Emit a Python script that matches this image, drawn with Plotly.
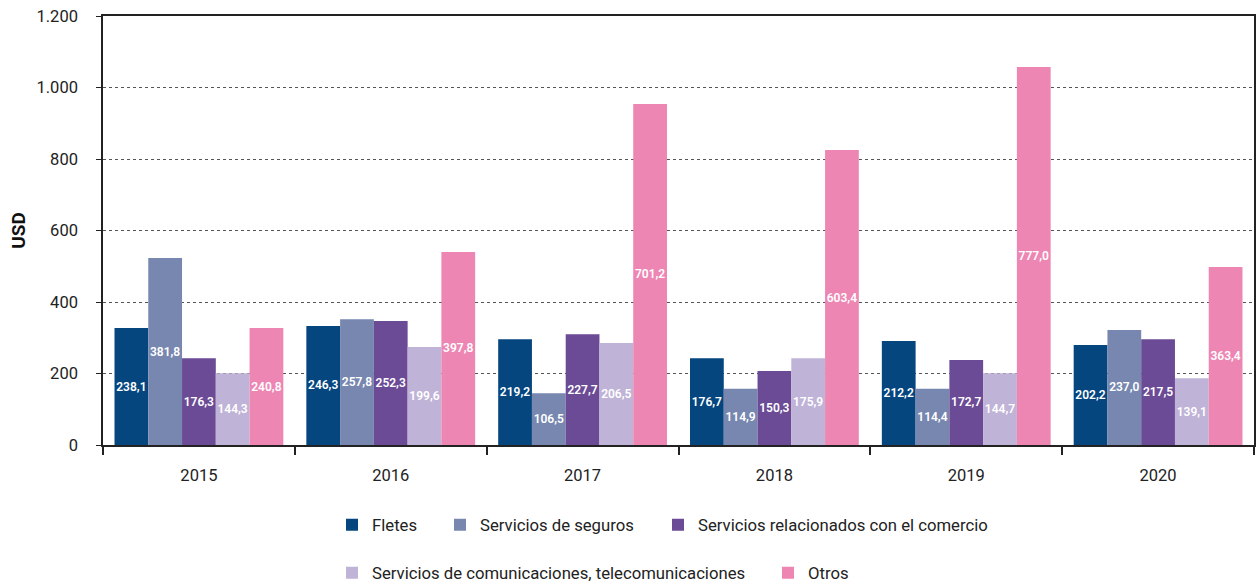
import plotly.graph_objects as go

years = ["2015", "2016", "2017", "2018", "2019", "2020"]
series_names = [
    "Fletes",
    "Servicios de seguros",
    "Servicios relacionados con el comercio",
    "Servicios de comunicaciones, telecomunicaciones",
    "Otros",
]
colors = ["#05467F", "#7787B0", "#6B4A96", "#BFB3D7", "#EE86B4"]

# Bar heights (USD)
fletes = [327, 333, 296, 243, 291, 280]
seguros = [523, 352, 145, 157, 157, 322]
relacionados = [243, 347, 310, 207, 238, 296]
comunicaciones = [201, 274, 285, 243, 201, 187]
otros = [327, 540, 954, 825, 1057, 498]

# Data labels as printed on the bars
fletes_lbl = [238.1, 246.3, 219.2, 176.7, 212.2, 202.2]
seguros_lbl = [381.8, 257.8, 106.5, 114.9, 114.4, 237.0]
relacionados_lbl = [176.3, 252.3, 227.7, 150.3, 172.7, 217.5]
comunicaciones_lbl = [144.3, 199.6, 206.5, 175.9, 144.7, 139.1]
otros_lbl = [240.8, 397.8, 701.2, 603.4, 777.0, 363.4]

y_tickvals = [0, 200, 400, 600, 800, 1000, 1200]
y_ticktext = ["0", "200", "400", "600", "800", "1.000", "1.200"]

values = [fletes, seguros, relacionados, comunicaciones, otros]
labels = [fletes_lbl, seguros_lbl, relacionados_lbl, comunicaciones_lbl, otros_lbl]

FONT = "Roboto"

# plot area geometry in px (for legend placement)
L, R, T, B = 103, 1254, 16, 445
W, H = 1260, 586
pw, ph = R - L, B - T

def px_x(x):
    return (x - L) / pw

def px_y(y):
    return (B - y) / ph

# (square left edge, row centre) in px
legend_pos = [(346, 525), (454, 525), (672, 525), (346, 573), (782, 573)]

fig = go.Figure()
for i, (name, vals, lbl, col) in enumerate(zip(series_names, values, labels, colors)):
    fig.add_trace(go.Bar(
        x=years, y=vals, name=name, marker=dict(color=col, line=dict(width=0)),
        text=lbl, texttemplate="%{text:.1f}", textposition="inside",
        insidetextanchor="middle", textangle=0,
        textfont=dict(family=FONT, size=12, color="white", weight=600),
        legend="legend" if i == 0 else f"legend{i+1}",
        hoverinfo="x+y+name",
    ))

layout_legends = {}
for i, (lx, ly) in enumerate(legend_pos):
    key = "legend" if i == 0 else f"legend{i+1}"
    layout_legends[key] = dict(
        x=px_x(lx - 14), y=px_y(ly), xanchor="left", yanchor="middle",
        orientation="h", bgcolor="rgba(0,0,0,0)", borderwidth=0,
        font=dict(family=FONT, size=16.7, color="#222"),
        itemwidth=30,
    )

fig.update_layout(
    width=W, height=H,
    margin=dict(l=L, r=W - R, t=T, b=H - B, autoexpand=False),
    paper_bgcolor="white", plot_bgcolor="white",
    barmode="group", bargap=0.12, bargroupgap=0,
    separators=",.",
    font=dict(family=FONT, size=16, color="#222"),
    uniformtext=dict(mode="show", minsize=12),
    showlegend=True,
    **layout_legends,
)

fig.update_xaxes(
    type="category", showline=True, linecolor="#222", linewidth=1.5, mirror=True,
    ticks="outside", tickson="boundaries", ticklen=8, tickcolor="#222", tickwidth=1.5,
    tickfont=dict(family=FONT, size=16.5, color="#222"), ticklabelstandoff=14,
    showgrid=False, automargin=False,
)
fig.update_yaxes(
    range=[0, 1200], tickvals=y_tickvals, ticktext=y_ticktext,
    showline=True, linecolor="#222", linewidth=1.5, mirror=True,
    ticks="outside", ticklen=5, tickcolor="#222",
    tickfont=dict(family=FONT, size=16.5, color="#222"), ticklabelstandoff=15,
    showgrid=True, gridcolor="#555", griddash="3px,3px", gridwidth=1,
    zeroline=False, automargin=False,
    title=dict(text="<b>USD</b>", font=dict(family=FONT, size=19, color="#111"), standoff=6),
)

fig.write_html("out.html", config={"displayModeBar": False},
               post_script="document.body.style.margin='0';")
